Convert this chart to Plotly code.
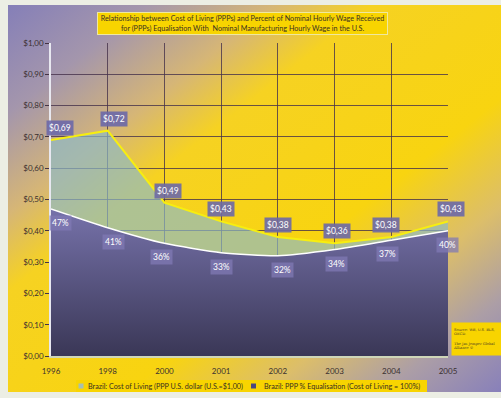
import base64
import plotly.graph_objects as go

years = ["1996", "1998", "2000", "2001", "2002", "2003", "2004", "2005"]
cost_of_living = [0.69, 0.72, 0.49, 0.43, 0.38, 0.36, 0.38, 0.43]
ppp_equalisation = [0.47, 0.41, 0.36, 0.33, 0.32, 0.34, 0.37, 0.40]
y_ticks = [0.0, 0.1, 0.2, 0.3, 0.4, 0.5, 0.6, 0.7, 0.8, 0.9, 1.0]
y_tick_labels = ["$0,00", "$0,10", "$0,20", "$0,30", "$0,40", "$0,50",
                 "$0,60", "$0,70", "$0,80", "$0,90", "$1,00"]
title_text = ("Relationship between Cost of Living (PPPs) and Percent of Nominal Hourly Wage Received<br>"
              "for (PPPs) Equalisation With  Nominal Manufacturing Hourly Wage in the U.S.")
legend_cost = "Brazil: Cost of Living (PPP U.S. dollar (U.S.=$1,00)"
legend_ppp = "Brazil: PPP % Equalisation (Cost of Living = 100%)"
source_text = "Source: WB, U.S. BLS,<br>OECD.<br><br>The Jas Jemper Global<br>Alliance ©"

W, H = 501, 398
L, R, T, B = 51, 53, 43, 42
PW, PH = W - L - R, H - T - B

def px(X):
    return (X - L) / PW

def py(Y):
    return (H - B - Y) / PH

# background gradient panel
svg = ('<svg xmlns="http://www.w3.org/2000/svg" width="493" height="387" viewBox="0 0 493 387" '
       'preserveAspectRatio="none"><defs><linearGradient id="g" x1="0" y1="0" x2="1" y2="1">'
       '<stop offset="0" stop-color="#857fb8"/>'
       '<stop offset="0.14" stop-color="#a496ac"/>'
       '<stop offset="0.27" stop-color="#d6b676"/>'
       '<stop offset="0.37" stop-color="#f6d222"/>'
       '<stop offset="0.62" stop-color="#f8d410"/>'
       '<stop offset="0.76" stop-color="#dcbe6a"/>'
       '<stop offset="0.88" stop-color="#ac9ea6"/>'
       '<stop offset="1" stop-color="#8880ba"/>'
       '</linearGradient></defs><rect width="493" height="387" fill="url(#g)"/></svg>')
svg_uri = "data:image/svg+xml;base64," + base64.b64encode(svg.encode()).decode()

fig = go.Figure()

fig.add_trace(go.Scatter(
    x=years, y=cost_of_living, name=legend_cost, mode="lines", showlegend=False,
    line=dict(color="#f7ee10", width=2), fill="tozeroy",
    fillcolor="rgba(140,185,200,0.68)"))

fig.add_trace(go.Scatter(
    x=years, y=ppp_equalisation, name=legend_ppp, mode="lines", showlegend=False,
    line=dict(color="#ffffff", width=1.5, shape="spline", smoothing=0.6),
    fill="tozeroy",
    fillgradient=dict(type="vertical", start=0, stop=max(ppp_equalisation),
                      colorscale=[[0, "#3a3756"], [1, "#7672aa"]])))

annotations = []
cost_xshift = [9, 6, 4, 0, 0, 2, -5, 3]
for i, (v, xs) in enumerate(zip(cost_of_living, cost_xshift)):
    annotations.append(dict(
        x=i, y=v, xref="x", yref="y", text="$" + f"{v:.2f}".replace(".", ","),
        showarrow=False, yshift=12, xshift=xs,
        font=dict(family="Lato", size=8.5, color="#ffffff"),
        bgcolor="rgba(108,104,168,0.9)", borderpad=2))

pct_xshift = [9, 6, -3, 0, 5, 2, -4, -1]
for i, (v, xs) in enumerate(zip(ppp_equalisation, pct_xshift)):
    annotations.append(dict(
        x=i, y=v, xref="x", yref="y", text=f"{round(v * 100)}%",
        showarrow=False, yshift=-14, xshift=xs,
        font=dict(family="Lato", size=8.5, color="#ffffff"),
        bgcolor="rgba(128,122,180,0.75)", borderpad=2))

annotations.append(dict(
    x=px(242.5), y=py(23.5), xref="paper", yref="paper", text=title_text,
    showarrow=False, xanchor="center", yanchor="middle",
    width=289, height=21, align="center",
    font=dict(family="Lato", size=7.2, color="#3a3020"),
    bgcolor="#f8d400", bordercolor="#eee8a0", borderwidth=1, borderpad=0))

annotations.append(dict(
    x=px(451), y=py(322), xref="paper", yref="paper", text=source_text,
    showarrow=False, xanchor="left", yanchor="top", align="left",
    width=56, height=30,
    font=dict(family="DejaVu Serif", size=3.6, color="#4a3a20"),
    bgcolor="#f8d400", borderpad=1))

# legend (drawn as a compact key box below the chart)
legend_y = 386
for text, x_text in ((legend_cost, 86), (legend_ppp, 262)):
    annotations.append(dict(
        x=px(x_text), y=py(legend_y), xref="paper", yref="paper", text=text,
        showarrow=False, xanchor="left", yanchor="middle",
        font=dict(family="Lato", size=7.2, color="#3a3020")))

shapes = [
    dict(type="rect", xref="paper", yref="paper", layer="above",
         x0=px(76), x1=px(427), y0=py(380), y1=py(392),
         fillcolor="#f8d400", line=dict(width=0)),
    dict(type="rect", xref="paper", yref="paper", layer="above",
         x0=px(78.5), x1=px(83.5), y0=py(383.5), y1=py(388.5),
         fillcolor="#a8c0b0", line=dict(width=0)),
    dict(type="rect", xref="paper", yref="paper", layer="above",
         x0=px(251), x1=px(256), y0=py(383.5), y1=py(388.5),
         fillcolor="#4a4880", line=dict(width=0)),
]

fig.update_layout(
    width=W, height=H,
    margin=dict(l=L, r=R, t=T, b=B, autoexpand=False),
    paper_bgcolor="#eceee4",
    plot_bgcolor="rgba(0,0,0,0)",
    images=[dict(source=svg_uri, xref="paper", yref="paper",
                 x=px(8), y=py(5), sizex=493 / PW, sizey=387 / PH,
                 xanchor="left", yanchor="top", sizing="stretch", layer="below")],
    annotations=annotations,
    shapes=shapes,
    showlegend=False,
    xaxis=dict(type="category", range=[0, 7], showgrid=True,
               gridcolor="rgba(70,50,75,0.8)", gridwidth=1,
               showline=True, linecolor="#cfd6b8", linewidth=1.5,
               ticks="outside", ticklen=7, tickcolor="rgba(0,0,0,0)",
               tickfont=dict(family="Lato", size=8, color="#3a3030"),
               zeroline=False),
    yaxis=dict(range=[0, 1.0], tickvals=y_ticks, ticktext=y_tick_labels,
               showgrid=True, gridcolor="rgba(70,50,75,0.8)", gridwidth=1,
               showline=True, linecolor="#e8e8f0", linewidth=1.5,
               ticks="outside", ticklen=4, tickcolor="#443344",
               tickfont=dict(family="Lato", size=8, color="#3a3030"),
               zeroline=False),
)

fig.write_html("out.html")
